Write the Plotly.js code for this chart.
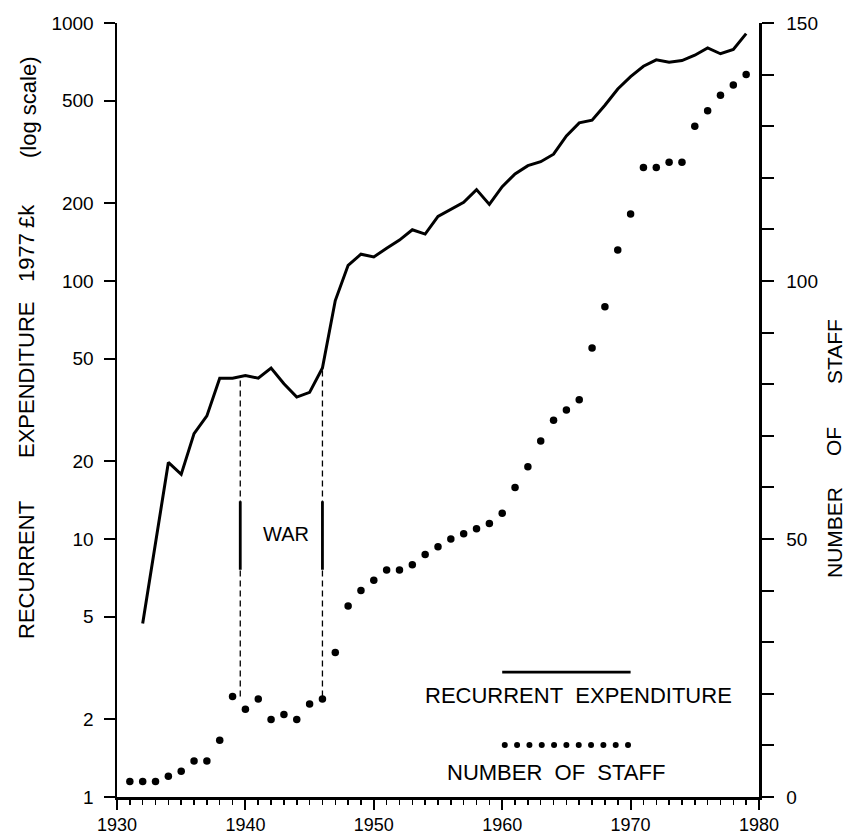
<!DOCTYPE html>
<html><head><meta charset="utf-8">
<script src="https://cdn.plot.ly/plotly-3.0.1.min.js"></script>
<style>body{margin:0;background:#fff}#chart{width:850px;height:835px}</style>
</head><body><div id="chart"></div>
<script>
// ---- data ----
const expYears = [1932,1934,1935,1936,1937,1938,1939,1940,1941,1942,1943,1944,1945,1946,1947,1948,1949,1950,1951,1952,1953,1954,1955,1956,1957,1958,1959,1960,1961,1962,1963,1964,1965,1966,1967,1968,1969,1970,1971,1972,1973,1974,1975,1976,1977,1978,1979];
const expenditure = [4.7,19.8,17.8,25.6,30,42,42,43,42,46,40,35.5,37,46,84,115,127,124,134,144,158,152,178,190,202,226,198,232,260,280,290,310,365,410,420,480,555,620,680,720,705,715,750,800,760,790,910];
const staffYears = [1931,1932,1933,1934,1935,1936,1937,1938,1939,1940,1941,1942,1943,1944,1945,1946,1947,1948,1949,1950,1951,1952,1953,1954,1955,1956,1957,1958,1959,1960,1961,1962,1963,1964,1965,1966,1967,1968,1969,1970,1971,1972,1973,1974,1975,1976,1977,1978,1979];
const staff = [3,3,3,4,5,7,7,11,19.5,17,19,15,16,15,18,19,28,37,40,42,44,44,45,47,48.5,50,51,52,53,55,60,64,69,73,75,77,87,95,106,113,122,122,123,123,130,133,136,138,140];

const xTickVals = [1930,1940,1950,1960,1970,1980];
const leftTickVals = [1,2,5,10,20,50,100,200,500,1000];
const rightTickVals = [0,10,20,30,40,50,60,70,80,90,100,110,120,130,140,150];
const rightLabelled = [0,50,100,150];

// war markers (year, expenditure scale)
const warYears = [1939.6, 1946.0];
const warTop = [42, 45.5];
const warBottom = 2.45;
const warBar = [7.6, 14];

// legend sample position
const legendX = [1960, 1970];
const legendLineY = 3.05;   // on expenditure scale
const legendDotY = 1.59;
const legendDotCount = 11;

const FONT = 'Liberation Sans, Arial, sans-serif';

const shapes = [];
warYears.forEach((w, i) => {
  shapes.push({type:'line', xref:'x', yref:'y', x0:w, x1:w, y0:warBottom, y1:warTop[i],
    line:{color:'#000', width:1.3, dash:'6px,4px'}});
  shapes.push({type:'line', xref:'x', yref:'y', x0:w, x1:w, y0:warBar[0], y1:warBar[1],
    line:{color:'#000', width:2.8}});
});
shapes.push({type:'line', xref:'x', yref:'y', x0:legendX[0], x1:legendX[1], y0:legendLineY, y1:legendLineY,
  line:{color:'#000', width:2.8}});

const legendDotsX = [];
for (let i = 0; i < legendDotCount; i++) legendDotsX.push(legendX[0] + 0.2 + i * (legendX[1] - legendX[0] - 0.4) / (legendDotCount - 1));

const traces = [
  {x: expYears, y: expenditure, type:'scatter', mode:'lines', yaxis:'y',
   line:{color:'#000', width:3}, hoverinfo:'skip'},
  {x: staffYears, y: staff, type:'scatter', mode:'markers', yaxis:'y2',
   marker:{color:'#000', size:7.5}, hoverinfo:'skip'},
  {x: legendDotsX, y: legendDotsX.map(() => legendDotY), type:'scatter', mode:'markers', yaxis:'y',
   marker:{color:'#000', size:6}, hoverinfo:'skip'}
];

function ann(text, x, y, size, angle) {
  return {text, x, y, xref:'paper', yref:'paper', showarrow:false, textangle: angle || 0,
    font:{family:FONT, size:size, color:'#000'}, xanchor:'center', yanchor:'middle'};
}
// plot area: x 117..759, y 23..797
const px = v => (v - 117) / 642;
const py = v => (797 - v) / 774;

const annotations = [
  ann('RECURRENT', px(26), py(570), 22, -90),
  ann('EXPENDITURE', px(26), py(380), 22, -90),
  ann('1977', px(26), py(258), 22, -90),
  ann('£k', px(26), py(216), 22, -90),
  ann('(log scale)', px(28), py(108), 22, -90),
  ann('NUMBER', px(834), py(533), 21, -90),
  ann('OF', px(834), py(442), 21, -90),
  ann('STAFF', px(834), py(352), 21, -90),
  ann('WAR', px(286), py(534), 20, 0),
  ann('RECURRENT\u00a0\u00a0EXPENDITURE', px(578), py(695), 22, 0),
  ann('NUMBER\u00a0\u00a0OF\u00a0\u00a0STAFF', px(556), py(772), 22, 0)
];

const layout = {
  width:850, height:835,
  margin:{l:117, r:91, t:23, b:38},
  paper_bgcolor:'#fff', plot_bgcolor:'#fff',
  showlegend:false,
  font:{family:FONT, color:'#000', size:18},
  xaxis:{range:[1930,1980], tickvals:xTickVals, ticks:'outside', ticklen:10, tickwidth:2, tickcolor:'#000',
    showline:true, linewidth:2.5, linecolor:'#000', showgrid:false, zeroline:false,
    ticklabelstandoff:0, tickfont:{size:18},
    minor:{ticks:'outside', dtick:1, tick0:1930, ticklen:5, tickwidth:1.5, tickcolor:'#000', showgrid:false}},
  yaxis:{type:'log', range:[0,3], tickvals:leftTickVals, ticktext:leftTickVals.map(String),
    ticks:'outside', ticklen:11, tickwidth:2, tickcolor:'#000',
    showline:true, linewidth:2.5, linecolor:'#000', showgrid:false, zeroline:false,
    ticklabelstandoff:6, tickfont:{size:19}},
  yaxis2:{overlaying:'y', side:'right', range:[0,150], tickvals:rightTickVals,
    ticktext:rightTickVals.map(v => rightLabelled.includes(v) ? String(v) : ''),
    ticks:'outside', ticklen:12, tickwidth:2, tickcolor:'#000',
    showline:true, linewidth:2.5, linecolor:'#000', showgrid:false, zeroline:false,
    ticklabelstandoff:9, tickfont:{size:19}},
  shapes, annotations
};

Plotly.newPlot('chart', traces, layout, {displayModeBar:false, staticPlot:true});
</script></body></html>
